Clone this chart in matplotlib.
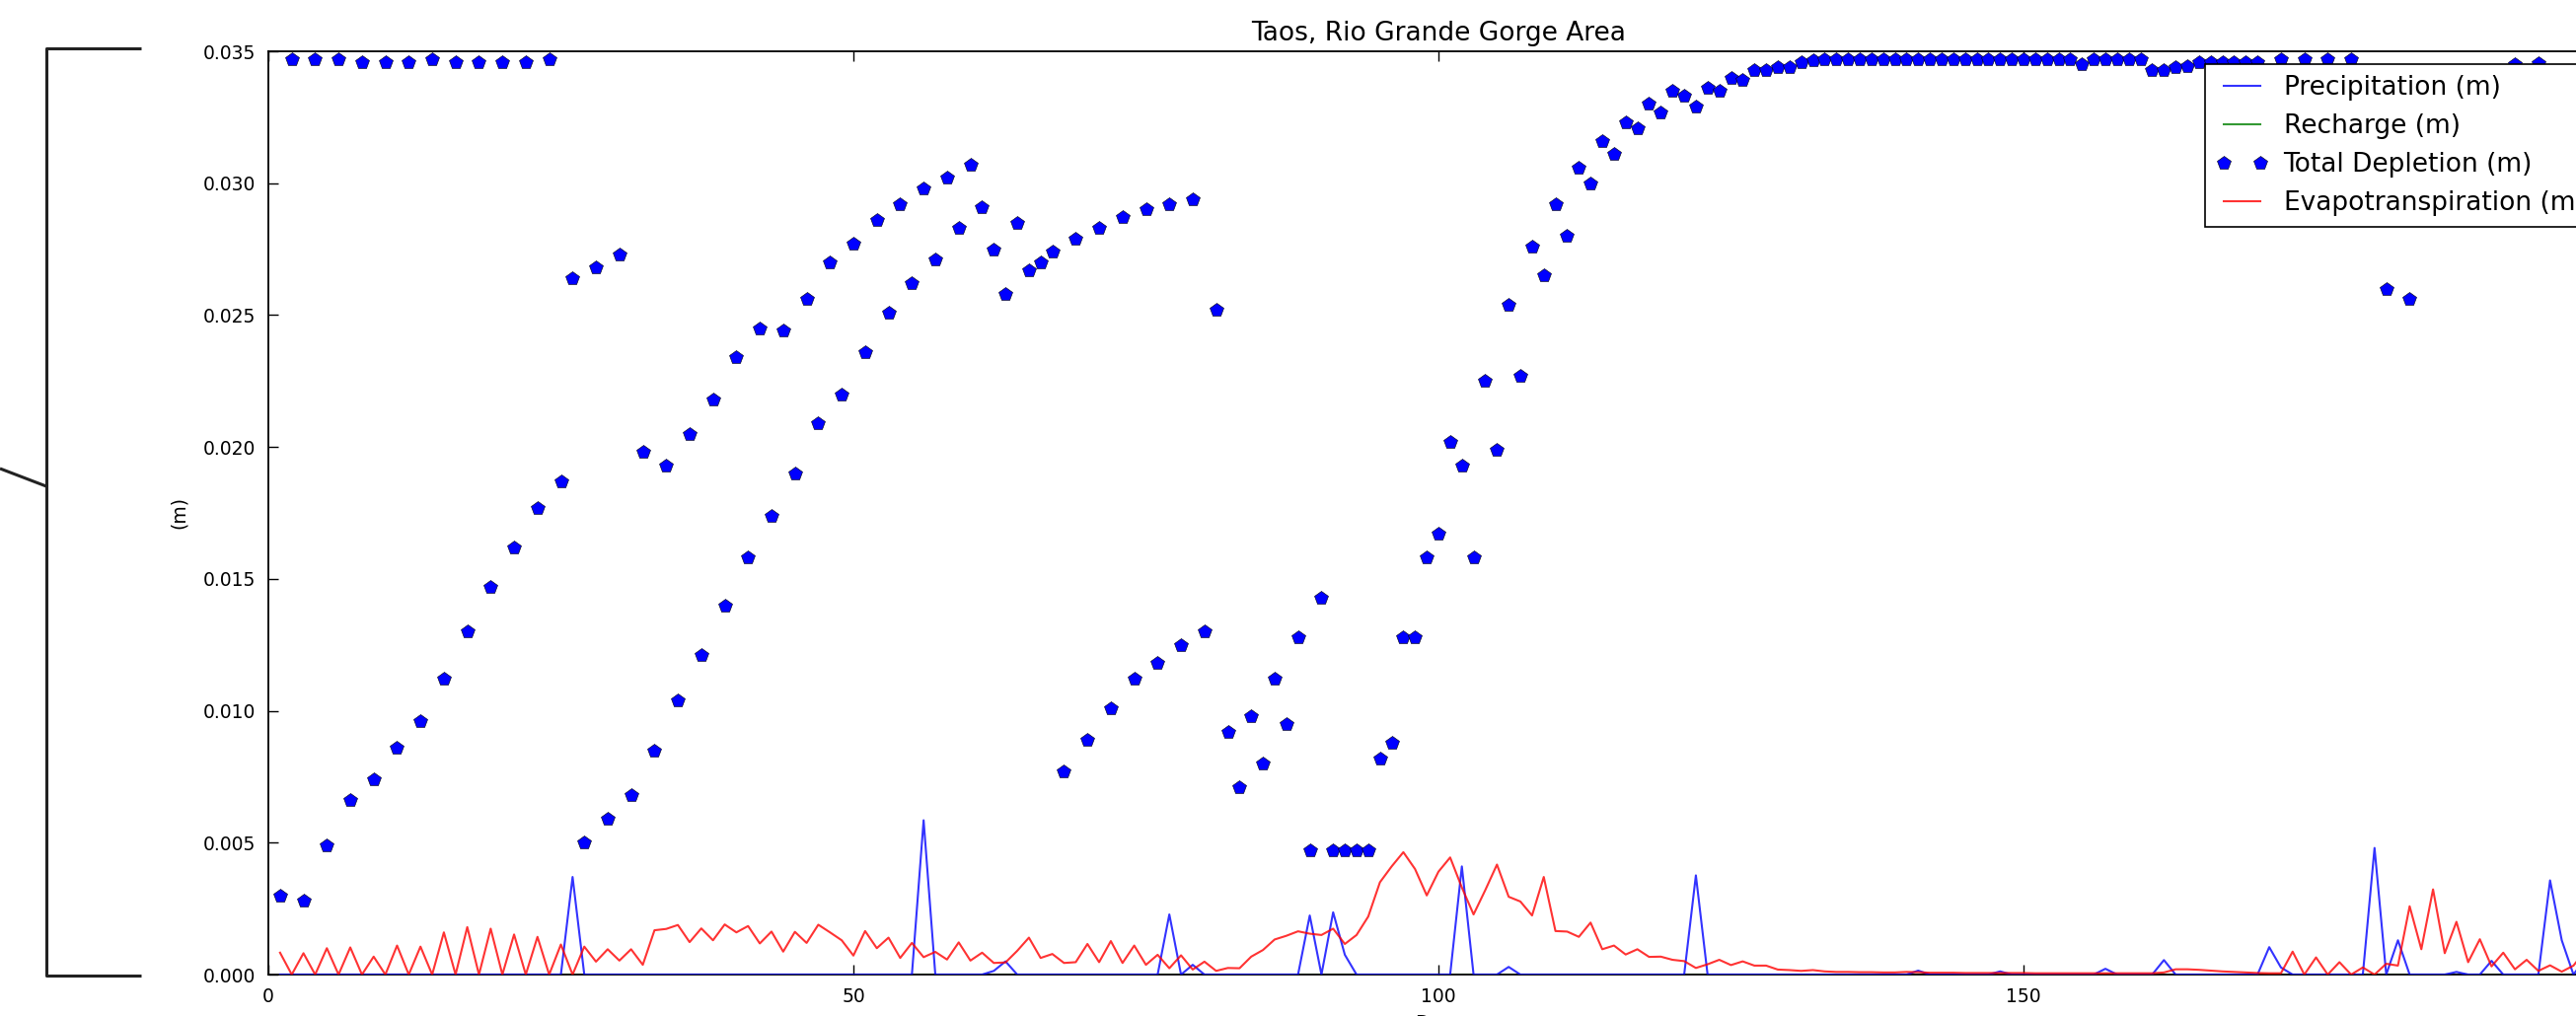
import numpy as np
import matplotlib
matplotlib.use("Agg")
import matplotlib.pyplot as plt
from matplotlib.lines import Line2D

# ---------------- data ----------------
days = list(range(1, 199))

precip_spikes = {26: 0.0037, 56: 0.00585, 62: 0.00014, 63: 0.0005, 77: 0.00228,
                 79: 0.00037, 89: 0.00224, 91: 0.00236, 92: 0.00075, 102: 0.0041,
                 106: 0.00029, 122: 0.00376, 141: 0.00015, 148: 0.00012, 157: 0.00022,
                 162: 0.00055, 171: 0.00104, 172: 0.00027, 180: 0.0048, 182: 0.0013,
                 187: 0.0001, 190: 0.00052, 195: 0.00357, 196: 0.0013, 198: 0.0006}
precipitation = [precip_spikes.get(d, 0.0) for d in days]

recharge = [0.0 for d in days]

evapotranspiration = [
    0.00083, 0.0, 0.00081, 0.0, 0.0010, 0.0, 0.00103, 0.0, 0.00068, 0.0,      # 1-10
    0.0011, 0.0, 0.00106, 0.0, 0.0016, 0.0, 0.0018, 0.0, 0.00174, 0.0,        # 11-20
    0.00152, 0.0, 0.00143, 0.0, 0.00114, 0.0, 0.00106, 0.00049, 0.00096, 0.00053,  # 21-30
    0.00096, 0.00037, 0.00168, 0.00173, 0.00188, 0.00123, 0.00175, 0.0013, 0.0019, 0.0016,  # 31-40
    0.00184, 0.00118, 0.00163, 0.00087, 0.00162, 0.0012, 0.00189, 0.0016, 0.0013, 0.00072,  # 41-50
    0.00165, 0.0010, 0.0014, 0.00063, 0.0012, 0.00066, 0.00086, 0.00057, 0.00122, 0.00053,  # 51-60
    0.00083, 0.00044, 0.00046, 0.0009, 0.0014, 0.00063, 0.00078, 0.00044, 0.00047, 0.00116,  # 61-70
    0.00047, 0.00127, 0.00044, 0.0011, 0.00037, 0.00075, 0.00024, 0.00073, 0.00019, 0.00049,  # 71-80
    0.00014, 0.00025, 0.00024, 0.00068, 0.00093, 0.00133, 0.00147, 0.00164, 0.00155, 0.0015,  # 81-90
    0.00174, 0.00116, 0.0015, 0.0022, 0.0035, 0.0041, 0.00464, 0.0040, 0.0030, 0.0039,      # 91-100
    0.00444, 0.0033, 0.00228, 0.0032, 0.00417, 0.00295, 0.00277, 0.00224, 0.0037, 0.00165,  # 101-110
    0.00163, 0.00143, 0.00197, 0.00096, 0.0011, 0.00076, 0.00096, 0.00067, 0.00068, 0.00056,  # 111-120
    0.00051, 0.00025, 0.00039, 0.00056, 0.00036, 0.0005, 0.00034, 0.00034, 0.00019, 0.00017,  # 121-130
    0.00014, 0.00017, 0.00012, 0.0001, 0.0001, 0.00009, 0.00009, 0.00008, 0.00008, 0.0001,   # 131-140
    0.00009, 0.00007, 0.00007, 0.00007, 0.00006, 0.00006, 0.00006, 0.00006, 0.00006, 0.00006,  # 141-150
    0.00005, 0.00005, 0.00005, 0.00005, 0.00005, 0.00005, 0.00005, 0.00005, 0.00005, 0.00005,  # 151-160
    0.00005, 0.00008, 0.0002, 0.0002, 0.00018, 0.00015, 0.00012, 0.0001, 0.00008, 0.00006,  # 161-170
    0.00005, 0.00005, 0.00087, 0.0, 0.00065, 0.0, 0.00047, 0.0, 0.00027, 0.0,              # 171-180
    0.00041, 0.00034, 0.00259, 0.00096, 0.00323, 0.00081, 0.0020, 0.00047, 0.00134, 0.00031,  # 181-190
    0.00083, 0.0002, 0.00056, 0.00014, 0.00035, 0.00011, 0.00034, 0.0009,                  # 191-198
]

nan = float("nan")
total_depletion = [
    0.0030, 0.0347, 0.0028, 0.0347, 0.0049, 0.0347, 0.0066, 0.0346, 0.0074, 0.0346,   # 1-10
    0.0086, 0.0346, 0.0096, 0.0347, 0.0112, 0.0346, 0.0130, 0.0346, 0.0147, 0.0346,   # 11-20
    0.0162, 0.0346, 0.0177, 0.0347, 0.0187, 0.0264, 0.0050, 0.0268, 0.0059, 0.0273,   # 21-30
    0.0068, 0.0198, 0.0085, 0.0193, 0.0104, 0.0205, 0.0121, 0.0218, 0.0140, 0.0234,   # 31-40
    0.0158, 0.0245, 0.0174, 0.0244, 0.0190, 0.0256, 0.0209, 0.0270, 0.0220, 0.0277,   # 41-50
    0.0236, 0.0286, 0.0251, 0.0292, 0.0262, 0.0298, 0.0271, 0.0302, 0.0283, 0.0307,   # 51-60
    0.0291, 0.0275, 0.0258, 0.0285, 0.0267, 0.0270, 0.0274, 0.0077, 0.0279, 0.0089,   # 61-70
    0.0283, 0.0101, 0.0287, 0.0112, 0.0290, 0.0118, 0.0292, 0.0125, 0.0294, 0.0130,   # 71-80
    0.0252, 0.0092, 0.0071, 0.0098, 0.0080, 0.0112, 0.0095, 0.0128, 0.0047, 0.0143,   # 81-90
    0.0047, 0.0047, 0.0047, 0.0047, 0.0082, 0.0088, 0.0128, 0.0128, 0.0158, 0.0167,   # 91-100
    0.0202, 0.0193, 0.0158, 0.0225, 0.0199, 0.0254, 0.0227, 0.0276, 0.0265, 0.0292,   # 101-110
    0.0280, 0.0306, 0.0300, 0.0316, 0.0311, 0.0323, 0.0321, 0.0330, 0.0327, 0.0335,   # 111-120
    0.0333, 0.0329, 0.0336, 0.0335, 0.0340, 0.0339, 0.0343, 0.0343, 0.0344, 0.0344,   # 121-130
    0.0346, 0.03465, 0.0347, 0.0347, 0.0347, 0.0347, 0.0347, 0.0347, 0.0347, 0.0347,  # 131-140
    0.0347, 0.0347, 0.0347, 0.0347, 0.0347, 0.0347, 0.0347, 0.0347, 0.0347, 0.0347,   # 141-150
    0.0347, 0.0347, 0.0347, 0.0347, 0.0345, 0.0347, 0.0347, 0.0347, 0.0347, 0.0347,   # 151-160
    0.0343, 0.0343, 0.0344, 0.03445, 0.0346, 0.0346, 0.0346, 0.0346, 0.0346, 0.0346,  # 161-170
    nan, 0.0347, nan, 0.0347, nan, 0.0347, nan, 0.0347, nan, nan,                     # 171-180
    0.0260, nan, 0.0256, nan, nan, nan, nan, nan, nan, nan,                           # 181-190
    nan, 0.0345, nan, 0.03455, nan, nan, nan, nan,                                    # 191-198
]

title = "Taos, Rio Grande Gorge Area"
ylabel = "(m)"
xlabel = "Days"
yticks = [0.000, 0.005, 0.010, 0.015, 0.020, 0.025, 0.030, 0.035]
xticks = [0, 50, 100, 150, 200]

# ---------------- figure ----------------
W, H = 2611, 1030
fig = plt.figure(figsize=(W / 100, H / 100), dpi=100, facecolor="white")
ax = fig.add_axes([272 / W, 42 / H, 2372 / W, 936 / H])

ax.plot(days, recharge, "-", color=(0, 0.5, 0), lw=1.5, alpha=0.8, label="Recharge (m)", zorder=2)
ax.plot(days, precipitation, "-", color=(0, 0, 1), lw=1.5, alpha=0.8, label="Precipitation (m)", zorder=3)
ax.plot(days, total_depletion, "p", color=(0, 0, 1), markersize=10.5,
        markeredgecolor="black", markeredgewidth=0.4, label="Total Depletion (m)", zorder=4)
ax.plot(days, evapotranspiration, "-", color=(1, 0, 0), lw=1.5, alpha=0.8,
        label="Evapotranspiration (m)", zorder=3)

ax.set_xlim(0, 200)
ax.set_ylim(0, 0.035)
ax.set_xticks(xticks)
ax.set_yticks(yticks)
ax.set_yticklabels([f"{v:.3f}" for v in yticks])
ax.tick_params(direction="in", length=7, width=1, labelsize=13.5, top=True, right=True, pad=9)
for s in ax.spines.values():
    s.set_linewidth(1.3)

ax.set_title(title, fontsize=19, pad=8)
ax.set_ylabel(ylabel, fontsize=13.5)
ax.yaxis.set_label_coords(-0.0342, 0.5)
ax.set_xlabel(xlabel, fontsize=13.5)
ax.xaxis.set_label_coords(0.5, -0.043)

handles, labels = ax.get_legend_handles_labels()
order = ["Precipitation (m)", "Recharge (m)", "Total Depletion (m)", "Evapotranspiration (m)"]
hmap = dict(zip(labels, handles))
leg = ax.legend([hmap[k] for k in order], order, loc="upper right", numpoints=2,
                fontsize=19, fancybox=False, framealpha=1, edgecolor="black",
                borderaxespad=0.5, borderpad=0.4, handlelength=2.0, handletextpad=0.6,
                labelspacing=0.5)
leg.get_frame().set_linewidth(1.2)
leg.set_zorder(10)

# bracket-like artifact at the left edge
def fx(px):
    return px / W

def fy(py):
    return 1 - py / H

bk = dict(color="#222222", lw=2.2, transform=fig.transFigure, solid_capstyle="butt")
fig.add_artist(Line2D([fx(143), fx(47), fx(47), fx(143)], [fy(49), fy(49), fy(989), fy(989)], **bk))
fig.add_artist(Line2D([fx(0), fx(47)], [fy(475), fy(493)], **bk))

fig.savefig("out.png", dpi=100, facecolor="white")
